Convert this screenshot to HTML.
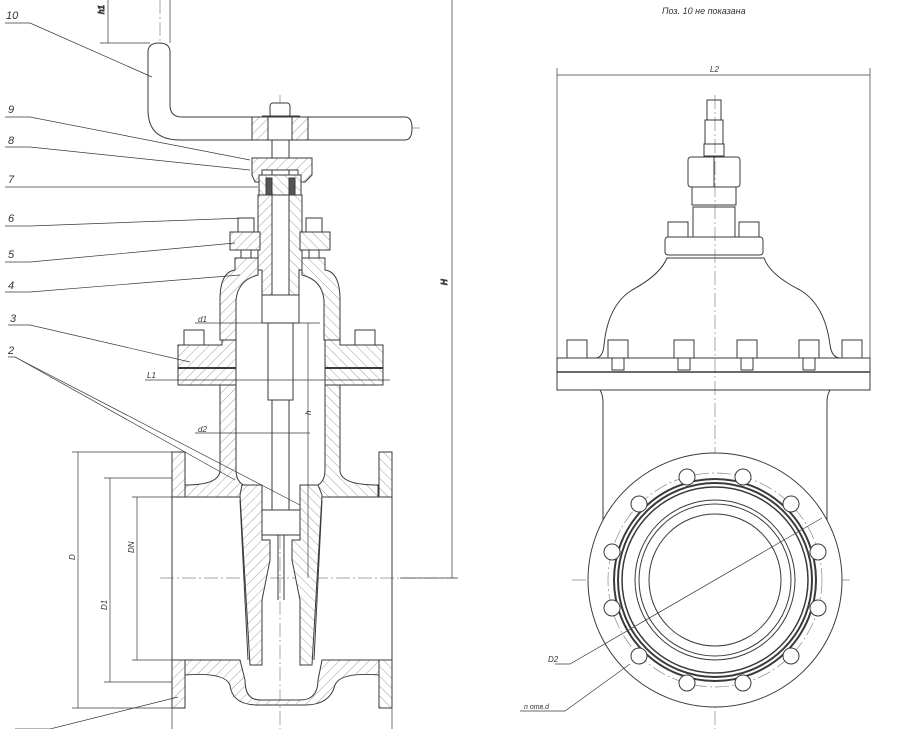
<!DOCTYPE html>
<html><head><meta charset="utf-8"><style>
html,body{margin:0;padding:0;background:#fff;}
svg{display:block;}
text{font-family:"Liberation Sans",sans-serif;font-style:italic;fill:#333;}
</style></head><body>
<svg width="900" height="729" viewBox="0 0 900 729" xmlns="http://www.w3.org/2000/svg">
<defs>
<pattern id="h" width="7" height="7" patternUnits="userSpaceOnUse" patternTransform="rotate(45)">
<rect width="7" height="7" fill="#fff"/><line x1="0" y1="0" x2="0" y2="7" stroke="#777" stroke-width="0.7"/></pattern>
<pattern id="h2" width="7" height="7" patternUnits="userSpaceOnUse" patternTransform="rotate(-45)">
<rect width="7" height="7" fill="#fff"/><line x1="0" y1="0" x2="0" y2="7" stroke="#777" stroke-width="0.7"/></pattern>
</defs>
<rect width="900" height="729" fill="#fff"/>
<g fill="none" stroke="#3a3a3a" stroke-width="1">

<g stroke="#888" stroke-width="0.7" stroke-dasharray="14,3,2,3">
<line x1="280" y1="95" x2="280" y2="729"/>
<line x1="160" y1="578" x2="455" y2="578"/>
<line x1="160" y1="0" x2="160" y2="110"/>
<line x1="165" y1="128" x2="420" y2="128"/>
</g>
<line x1="452" y1="0" x2="452" y2="578" stroke-width="0.7"/>
<line x1="400" y1="578" x2="458" y2="578" stroke-width="0.7"/>
<text x="447" y="285" font-size="8" transform="rotate(-90 447 285)">H</text>
<line x1="108" y1="0" x2="108" y2="43" stroke-width="0.7"/>
<line x1="100" y1="43" x2="150" y2="43" stroke-width="0.7"/>
<line x1="170" y1="0" x2="170" y2="43" stroke-width="0.7"/>
<text x="104" y="14" font-size="8" transform="rotate(-90 104 14)">h1</text>

<path d="M148 110 V52 Q148 43 159 43 Q170 43 170 52 V105 Q170 117 182 117 H405 Q412 117 412 128 Q412 140 405 140 H180 Q148 140 148 110 Z" fill="#fff"/>
<rect x="252" y="117" width="56" height="23" fill="url(#h)"/>
<rect x="268" y="117" width="24" height="23" fill="#fff"/>
<rect x="270" y="103" width="20" height="14" rx="3" fill="#fff"/>
<line x1="262" y1="116" x2="300" y2="116"/>

<rect x="272" y="140" width="17" height="370" fill="#fff"/>
<rect x="268" y="295" width="25" height="105" fill="#fff"/>
<path d="M252 158 H312 V175 L305 182 H298 V170 H262 V182 H255 L252 175 Z" fill="url(#h)"/>
<rect x="259" y="175" width="42" height="20" fill="url(#h2)"/>
<rect x="266" y="178" width="6" height="30" fill="#555"/>
<rect x="289" y="178" width="6" height="30" fill="#555"/>
<path d="M258 195 H272 V295 H262 V270 H258 Z" fill="url(#h)"/>
<path d="M302 195 H289 V295 H299 V270 H302 Z" fill="url(#h2)"/>
<rect x="230" y="232" width="30" height="18" fill="url(#h)"/>
<rect x="300" y="232" width="30" height="18" fill="url(#h2)"/>
<rect x="238" y="218" width="16" height="14" fill="#fff"/>
<rect x="306" y="218" width="16" height="14" fill="#fff"/>
<rect x="241" y="250" width="10" height="10"/>
<rect x="309" y="250" width="10" height="10"/>
<path d="M235 258 H258 V275 Q238 280 236 300 V340 H220 V300 Q220 272 235 270 Z" fill="url(#h)"/>
<path d="M325 258 H302 V275 Q322 280 324 300 V340 H340 V300 Q340 272 325 270 Z" fill="url(#h2)"/>
<rect x="262" y="295" width="37" height="28" fill="#fff"/>
<path d="M178 345 H222 V340 H236 V385 H178 Z" fill="url(#h)"/>
<path d="M383 345 H340 V340 H325 V385 H383 Z" fill="url(#h2)"/>
<line x1="178" y1="368" x2="236" y2="368" stroke-width="2"/>
<line x1="325" y1="368" x2="383" y2="368" stroke-width="2"/>
<rect x="184" y="330" width="20" height="15" fill="#fff"/>
<rect x="355" y="330" width="20" height="15" fill="#fff"/>
<path d="M220 385 H236 V470 Q236 485 250 487 L240 497 H185 V485 Q220 485 220 470 Z" fill="url(#h)"/>
<path d="M340 385 H325 V470 Q325 485 312 487 L322 497 H378 V485 Q340 485 340 470 Z" fill="url(#h2)"/>
<rect x="172" y="452" width="13" height="45" fill="url(#h)"/>
<rect x="379" y="452" width="13" height="45" fill="url(#h2)"/>
<rect x="172" y="660" width="13" height="48" fill="url(#h)"/>
<rect x="379" y="660" width="13" height="48" fill="url(#h2)"/>
<line x1="172" y1="497" x2="172" y2="660"/>
<line x1="392" y1="497" x2="392" y2="660"/>
<path d="M185 660 H240 L245 680 Q245 700 260 700 H300 Q318 700 318 680 L322 660 H379 V675 Q340 672 335 685 Q330 705 305 705 H258 Q232 705 230 685 Q225 672 185 675 Z" fill="url(#h)"/>
<path d="M242 485 H262 V540 H270 V560 L262 600 V665 H250 L240 495 Z" fill="url(#h)"/>
<path d="M318 485 H300 V540 H292 V560 L300 600 V665 H312 L322 495 Z" fill="url(#h2)"/>
<line x1="240" y1="500" x2="248" y2="660"/><line x1="322" y1="500" x2="314" y2="660"/>
<rect x="262" y="510" width="38" height="25" fill="#fff"/>
<line x1="278" y1="535" x2="278" y2="600"/><line x1="284" y1="535" x2="284" y2="600"/>

<g stroke-width="0.7">
<line x1="78" y1="452" x2="78" y2="708"/><line x1="72" y1="452" x2="172" y2="452"/><line x1="72" y1="708" x2="172" y2="708"/>
<line x1="110" y1="478" x2="110" y2="682"/><line x1="104" y1="478" x2="172" y2="478"/><line x1="104" y1="682" x2="172" y2="682"/>
<line x1="137" y1="497" x2="137" y2="660"/><line x1="132" y1="497" x2="172" y2="497"/><line x1="132" y1="660" x2="172" y2="660"/>
<line x1="195" y1="323" x2="320" y2="323"/><line x1="195" y1="433" x2="310" y2="433"/>
<line x1="145" y1="380" x2="390" y2="380"/>
<line x1="308" y1="323" x2="308" y2="578"/>
<line x1="172" y1="708" x2="172" y2="729"/><line x1="392" y1="708" x2="392" y2="729"/>
</g>
<g font-size="8" stroke="none">
<text x="75" y="560" transform="rotate(-90 75 560)">D</text>
<text x="107" y="610" transform="rotate(-90 107 610)">D1</text>
<text x="134" y="553" transform="rotate(-90 134 553)">DN</text>
<text x="198" y="322">d1</text><text x="198" y="432">d2</text><text x="147" y="378">L1</text>
<text x="311" y="415" transform="rotate(-90 311 415)">h</text>
</g>

<g stroke-width="0.7">
<polyline points="5,23 30,23 152,77"/>
<polyline points="5,117 30,117 250,160"/>
<polyline points="5,147 30,147 250,170"/>
<polyline points="5,187 258,187"/>
<polyline points="5,226 30,226 245,218"/>
<polyline points="5,262 30,262 235,243"/>
<polyline points="5,292 30,292 240,275"/>
<polyline points="8,325 30,325 190,362"/>
<polyline points="8,357 15,357 235,480"/><line x1="15" y1="357" x2="300" y2="505"/>
<polyline points="15,729 50,729 178,697"/>
</g>
<g font-size="11" stroke="none">
<text x="6" y="19">10</text><text x="8" y="113">9</text><text x="8" y="144">8</text><text x="8" y="183">7</text>
<text x="8" y="222">6</text><text x="8" y="258">5</text><text x="8" y="289">4</text><text x="10" y="322">3</text><text x="8" y="354">2</text>
</g>

<text x="662" y="14" font-size="9" stroke="none">Поз. 10 не показана</text>
<g stroke="#888" stroke-width="0.7" stroke-dasharray="14,3,2,3">
<line x1="715" y1="95" x2="715" y2="729"/>
<line x1="572" y1="580" x2="852" y2="580"/>
</g>
<line x1="557" y1="75" x2="870" y2="75" stroke-width="0.7"/>
<line x1="557" y1="68" x2="557" y2="360" stroke-width="0.7"/>
<line x1="870" y1="68" x2="870" y2="360" stroke-width="0.7"/>
<text x="710" y="72" font-size="8" stroke="none">L2</text>

<rect x="707" y="100" width="14" height="20"/>
<rect x="705" y="120" width="18" height="24"/>
<rect x="704" y="144" width="20" height="12"/>
<rect x="688" y="157" width="52" height="30" rx="3"/><line x1="714" y1="157" x2="714" y2="187"/>
<rect x="692" y="187" width="44" height="18"/>
<rect x="693" y="207" width="42" height="30"/>
<rect x="665" y="237" width="98" height="18" rx="3"/>
<rect x="668" y="222" width="20" height="15"/><rect x="739" y="222" width="20" height="15"/>
<path d="M667 258 H764 Q770 275 800 290 Q825 305 830 345 Q832 358 840 358 H595 Q603 358 604 345 Q608 305 632 290 Q660 275 667 258 Z"/>
<rect x="557" y="358" width="313" height="32"/>
<line x1="557" y1="372" x2="870" y2="372" stroke-width="1.6"/>
<g>
<rect x="567" y="340" width="20" height="18"/><rect x="608" y="340" width="20" height="18"/><rect x="674" y="340" width="20" height="18"/>
<rect x="737" y="340" width="20" height="18"/><rect x="799" y="340" width="20" height="18"/><rect x="842" y="340" width="20" height="18"/>
<rect x="612" y="358" width="12" height="12"/><rect x="678" y="358" width="12" height="12"/><rect x="741" y="358" width="12" height="12"/><rect x="803" y="358" width="12" height="12"/>
</g>
<path d="M600 390 Q603 395 603 402 V520"/>
<path d="M830 390 Q827 395 827 402 V520"/>
<circle cx="715" cy="580" r="127" fill="#fff"/>
<circle cx="715" cy="580" r="107" stroke="#888" stroke-width="0.7" stroke-dasharray="14,3,2,3"/>
<circle cx="715" cy="580" r="101" stroke-width="2"/>
<circle cx="715" cy="580" r="97" stroke-width="2"/>
<circle cx="715" cy="580" r="93" stroke-width="1.5"/>
<circle cx="715" cy="580" r="80"/>
<circle cx="715" cy="580" r="76"/>
<circle cx="715" cy="580" r="66"/>
<g fill="#fff">
<circle cx="687" cy="477" r="8"/><circle cx="743" cy="477" r="8"/>
<circle cx="639" cy="504" r="8"/><circle cx="791" cy="504" r="8"/>
<circle cx="612" cy="552" r="8"/><circle cx="818" cy="552" r="8"/>
<circle cx="612" cy="608" r="8"/><circle cx="818" cy="608" r="8"/>
<circle cx="639" cy="656" r="8"/><circle cx="791" cy="656" r="8"/>
<circle cx="687" cy="683" r="8"/><circle cx="743" cy="683" r="8"/>
</g>
<g stroke-width="0.7">
<polyline points="555,664 570,664 822,518"/>
<polyline points="520,711 565,711 630,664"/>
</g>
<text x="548" y="662" font-size="8" stroke="none">D2</text>
<text x="524" y="709" font-size="7" stroke="none">n отв.d</text>
</g>
</svg>
</body></html>
